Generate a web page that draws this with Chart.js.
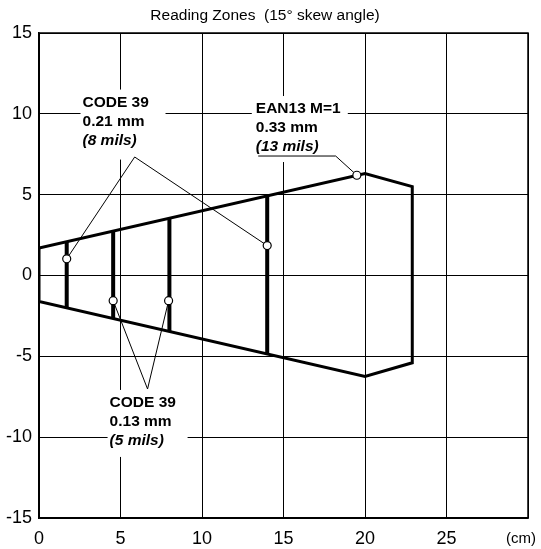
<!DOCTYPE html>
<html>
<head>
<meta charset="utf-8">
<title>Reading Zones</title>
<script src="https://cdn.jsdelivr.net/npm/chart.js@4.4.1/dist/chart.umd.min.js"></script>
<style>
  html, body { margin: 0; padding: 0; background: #fff; }
  #chart { display: block; }
</style>
</head>
<body>
<canvas id="chart" width="541" height="549"></canvas>
<script>
// Reading zone outline (cm)
const outlineX = [0, 20, 22.9, 22.9, 20, 0, 0];
const outlineY = [1.7, 6.3, 5.5, -5.4, -6.25, -1.6, 1.7];

// Vertical bars inside the zone
const barX = [1.7, 4.55, 8.0, 14.0];
const barTop = [2.1, 2.72, 3.54, 4.92];
const barBottom = [-2.0, -2.65, -3.45, -4.84];

// Marker circles
const markerX = [1.7, 4.55, 7.95, 14.0, 19.5];
const markerY = [1.03, -1.56, -1.56, 1.85, 6.2];

// Leader lines (three polylines)
const leaderA_X = [1.7, 5.87, 14.0];
const leaderA_Y = [1.03, 7.33, 1.85];
const leaderB_X = [4.55, 6.66, 7.95];
const leaderB_Y = [-1.56, -7.02, -1.56];
const leaderC_X = [13.45, 18.2, 19.5];
const leaderC_Y = [7.39, 7.39, 6.2];

// Axis ticks
const xTicks = [0, 5, 10, 15, 20, 25, 30];
const yTicks = [-15, -10, -5, 0, 5, 10, 15];

// Label texts
const labelA = ["CODE 39", "0.21 mm", "(8 mils)"];
const labelB = ["CODE 39", "0.13 mm", "(5 mils)"];
const labelC = ["EAN13 M=1", "0.33 mm", "(13 mils)"];

const titleText = "Reading Zones  (15\u00b0 skew angle)";
const unitText = "(cm)";

function toPoints(xs, ys) {
  return xs.map((x, i) => ({ x: x, y: ys[i] }));
}

function joinWithGaps(lists) {
  const out = [];
  lists.forEach((pts, i) => {
    if (i > 0) out.push({ x: pts[0].x, y: null });
    pts.forEach((p) => out.push(p));
  });
  return out;
}

const barPoints = joinWithGaps(
  barX.map((x, i) => [{ x: x, y: barTop[i] }, { x: x, y: barBottom[i] }])
);
const leaderPoints = joinWithGaps([
  toPoints(leaderA_X, leaderA_Y),
  toPoints(leaderB_X, leaderB_Y),
  toPoints(leaderC_X, leaderC_Y),
]);

const FONT = "'Liberation Sans', Arial, sans-serif";

// label anchors in data coords (left edge, first baseline) and white box around them
const labels = [
  { lines: labelA, x: 2.67, y: 10.45, box: { l: -2, r: 83, t: -17, b: 53 } },
  { lines: labelC, x: 13.3, y: 10.05, box: { l: -4, r: 92, t: -17, b: 49 } },
  { lines: labelB, x: 4.33, y: -8.13, box: { l: -2, r: 78, t: -17, b: 50 } },
];
const LINE_GAP = 19;

const annotationPlugin = {
  id: "annotations",
  beforeDatasetsDraw(chart) {
    const { ctx, chartArea, scales } = chart;
    ctx.save();
    ctx.fillStyle = "#fff";
    labels.forEach((lb) => {
      const px = scales.x.getPixelForValue(lb.x);
      const py = scales.y.getPixelForValue(lb.y);
      ctx.fillRect(px + lb.box.l, py + lb.box.t, lb.box.r - lb.box.l, lb.box.b - lb.box.t);
    });
    // frame
    ctx.strokeStyle = "#000";
    ctx.lineWidth = 1.5;
    ctx.strokeRect(chartArea.left, chartArea.top, chartArea.right - chartArea.left, chartArea.bottom - chartArea.top);
    ctx.restore();
  },
  afterDatasetsDraw(chart) {
    const { ctx, scales } = chart;
    ctx.save();
    ctx.fillStyle = "#000";
    ctx.textAlign = "left";
    ctx.textBaseline = "alphabetic";
    labels.forEach((lb) => {
      const px = scales.x.getPixelForValue(lb.x);
      const py = scales.y.getPixelForValue(lb.y);
      lb.lines.forEach((t, i) => {
        ctx.font = (i === 2 ? "italic " : "") + "bold 15.5px " + FONT;
        ctx.fillText(t, px, py + i * LINE_GAP);
      });
    });
    ctx.restore();
  },
  afterDraw(chart) {
    const { ctx, chartArea } = chart;
    ctx.save();
    ctx.fillStyle = "#000";
    ctx.textAlign = "center";
    ctx.textBaseline = "alphabetic";
    ctx.font = "15.5px " + FONT;
    ctx.fillText(titleText, 265, 20);
    ctx.font = "15px " + FONT;
    ctx.fillText(unitText, chartArea.right - 7, 543);
    ctx.restore();
  },
};

new Chart(document.getElementById("chart"), {
  type: "scatter",
  data: {
    datasets: [
      {
        label: "markers",
        data: toPoints(markerX, markerY),
        pointRadius: 4,
        pointBackgroundColor: "#fff",
        pointBorderColor: "#000",
        pointBorderWidth: 1.2,
        showLine: false,
        order: 0,
      },
      {
        label: "leaders",
        data: leaderPoints,
        showLine: true,
        spanGaps: false,
        borderColor: "#000",
        borderWidth: 1,
        pointRadius: 0,
        order: 1,
      },
      {
        label: "bars",
        data: barPoints,
        showLine: true,
        spanGaps: false,
        borderColor: "#000",
        borderWidth: 4,
        borderCapStyle: "butt",
        pointRadius: 0,
        order: 2,
      },
      {
        label: "zone",
        data: toPoints(outlineX, outlineY),
        showLine: true,
        borderColor: "#000",
        borderWidth: 3,
        borderJoinStyle: "miter",
        pointRadius: 0,
        order: 3,
      },
    ],
  },
  options: {
    responsive: false,
    devicePixelRatio: 1,
    animation: false,
    layout: { padding: { left: 0, top: 33, right: 13, bottom: 0 } },
    plugins: {
      legend: { display: false },
      tooltip: { enabled: false },
      title: { display: false },
    },
    scales: {
      x: {
        type: "linear",
        min: 0,
        max: 30,
        afterBuildTicks: (scale) => { scale.ticks = xTicks.map((v) => ({ value: v })); },
        afterFit: (scale) => { scale.height = 31; },
        grid: { color: "#000", lineWidth: 1, drawTicks: false },
        border: { display: true, color: "#000", width: 1.5 },
        ticks: {
          color: "#000",
          font: { family: FONT, size: 18 },
          padding: 10,
          maxRotation: 0,
          callback: (v) => (v === 30 ? "" : v),
        },
      },
      y: {
        type: "linear",
        min: -15,
        max: 15,
        afterBuildTicks: (scale) => { scale.ticks = yTicks.map((v) => ({ value: v })); },
        afterFit: (scale) => { scale.width = 39; },
        grid: { color: "#000", lineWidth: 1, drawTicks: false },
        border: { display: true, color: "#000", width: 1.5 },
        ticks: {
          color: "#000",
          font: { family: FONT, size: 18 },
          padding: 7,
        },
      },
    },
  },
  plugins: [annotationPlugin],
});
</script>
</body>
</html>
